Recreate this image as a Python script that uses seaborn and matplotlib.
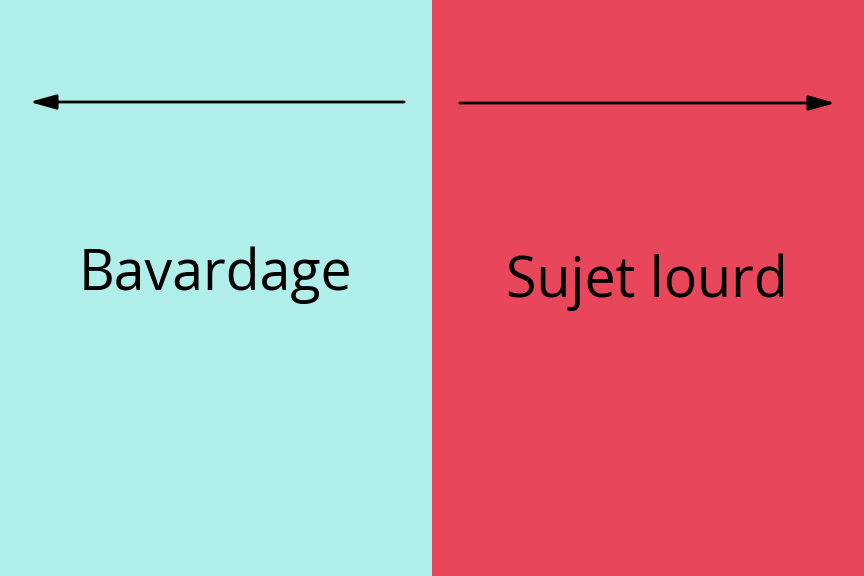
import matplotlib
matplotlib.use("Agg")
import matplotlib.pyplot as plt
import seaborn as sns
import pandas as pd

categories = ["Bavardage", "Sujet lourd"]
values = [1, 1]
colors = ["#B0EEEA", "#E8465A"]

df = pd.DataFrame({"cat": categories, "val": values})
fig = plt.figure(figsize=(8.64, 5.76), dpi=100)
ax = fig.add_axes([0, 0, 1, 1])
sns.barplot(data=df, x="cat", y="val", hue="cat", palette=colors, width=1.0,
            legend=False, ax=ax, saturation=1, edgecolor="none")
ax.set_xlim(-0.5, 1.5)
ax.set_ylim(0, 1)
ax.axis("off")

ax.annotate("", xy=(27/432-0.5, 1-102/576), xytext=(407/432-0.5, 1-102/576),
            arrowprops=dict(arrowstyle="-|>,head_length=1.6,head_width=0.45", lw=2, color="black"))
ax.annotate("", xy=(838/432-0.5, 1-103/576), xytext=(457/432-0.5, 1-103/576),
            arrowprops=dict(arrowstyle="-|>,head_length=1.6,head_width=0.45", lw=2, color="black"))

ax.text(215/432-0.5, 1-275/576, categories[0], ha="center", va="center",
        fontsize=40, family=["Open Sans", "DejaVu Sans"], color="black")
ax.text(647/432-0.5, 1-282/576, categories[1], ha="center", va="center",
        fontsize=40, family=["Open Sans", "DejaVu Sans"], color="black")

fig.savefig("out.png", dpi=100)
